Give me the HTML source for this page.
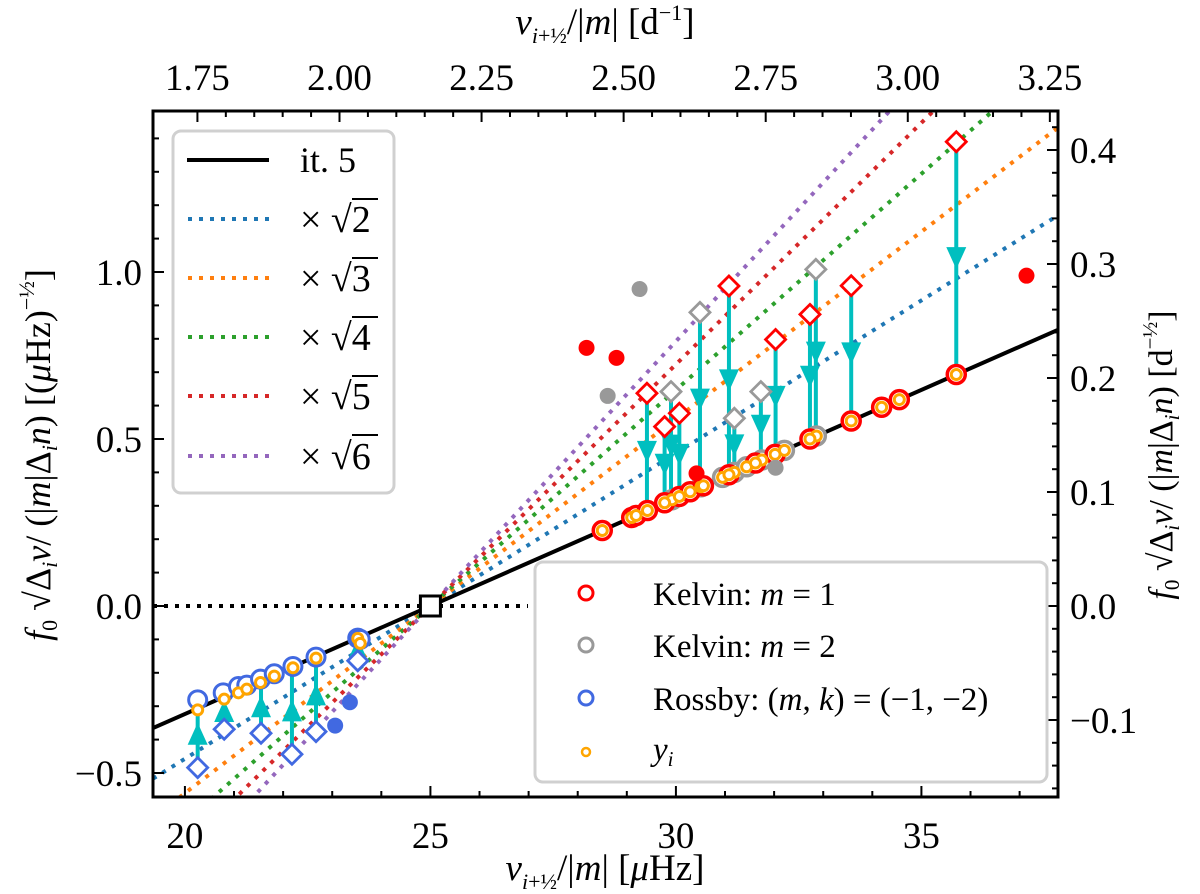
<!DOCTYPE html>
<html><head><meta charset="utf-8"><style>
html,body{margin:0;padding:0;background:#fff;}
svg{display:block;font-family:"Liberation Serif","DejaVu Serif",serif;}
</style></head><body>
<svg id="chart" width="1200" height="894" viewBox="0 0 1200 894" xmlns="http://www.w3.org/2000/svg">
<defs><clipPath id="plotclip"><rect x="153" y="111" width="905" height="686"/></clipPath></defs>
<g id="marks" clip-path="url(#plotclip)"></g>
<g id="axes"></g>
<g id="legends"></g>
</svg>
<script>
// ---- data ----
const lineSlope = 0.0647;
const lineZeroX = 25;
const multipliers = [2, 3, 4, 5, 6];
const multColors = ["#1f77b4", "#ff7f0e", "#2ca02c", "#d62728", "#9467bd"];
const kelvin1X = [28.50, 29.10, 29.19, 29.42, 29.77, 30.07, 30.29, 30.56, 31.08, 31.62, 32.02, 32.73, 33.57, 34.19, 34.55, 35.71];
const kelvin1Y = [0.226, 0.265, 0.271, 0.286, 0.309, 0.328, 0.342, 0.360, 0.393, 0.428, 0.454, 0.500, 0.554, 0.595, 0.618, 0.693];
const kelvin2X = [29.92, 30.51, 30.95, 31.19, 31.44, 31.75, 32.21, 32.86];
const kelvin2Y = [0.318, 0.357, 0.385, 0.400, 0.417, 0.437, 0.466, 0.509];
const rossbyX = [20.26, 20.78, 21.09, 21.26, 21.54, 21.82, 22.20, 22.67, 23.52, 23.57];
const rossbyY = [-0.281, -0.260, -0.241, -0.237, -0.219, -0.203, -0.181, -0.153, -0.096, -0.100];
const rossbyYiX = [20.26, 20.80, 21.09, 21.26, 21.54, 21.82, 22.20, 22.67, 23.52, 23.57];
const rossbyYiY = [-0.311, -0.279, -0.260, -0.249, -0.229, -0.210, -0.185, -0.156, -0.097, -0.112];
const redDiamondX = [29.41, 29.77, 30.07, 31.08, 32.03, 32.73, 33.57, 35.71];
const redDiamondY = [0.637, 0.537, 0.577, 0.958, 0.798, 0.873, 0.959, 1.39];
const redTargetY = [0.286, 0.309, 0.328, 0.393, 0.454, 0.500, 0.554, 0.693];
const grayDiamondX = [29.90, 30.49, 31.19, 31.73, 32.85];
const grayDiamondY = [0.642, 0.879, 0.562, 0.642, 1.008];
const grayTargetY = [0.318, 0.357, 0.400, 0.437, 0.509];
const blueDiamondX = [20.26, 20.80, 21.55, 22.18, 22.67, 23.52];
const blueDiamondY = [-0.484, -0.369, -0.381, -0.444, -0.376, -0.164];
const blueTargetY = [-0.281, -0.260, -0.219, -0.181, -0.153, -0.096];
const redDotX = [28.18, 28.79, 37.14, 30.42];
const redDotY = [0.773, 0.743, 0.989, 0.397];
const grayDotX = [29.26, 28.61, 32.03];
const grayDotY = [0.949, 0.629, 0.414];
const blueDotX = [23.36, 23.06];
const blueDotY = [-0.288, -0.358];
const bottomTicks = [20, 25, 30, 35];
const topTicks = [1.75, 2.00, 2.25, 2.50, 2.75, 3.00, 3.25];
const topTickLabels = ["1.75", "2.00", "2.25", "2.50", "2.75", "3.00", "3.25"];
const leftTicks = [-0.5, 0.0, 0.5, 1.0];
const leftTickLabels = ["\u22120.5", "0.0", "0.5", "1.0"];
const rightTicks = [-0.1, 0.0, 0.1, 0.2, 0.3, 0.4];
const rightTickLabels = ["\u22120.1", "0.0", "0.1", "0.2", "0.3", "0.4"];

// ---- scales ----
const PL = 153, PR = 1058, PT = 111, PB = 797;
const XMIN = 19.35, PXPER = 49.1;
function sx(x) { return PL + (x - XMIN) * PXPER; }
function sy(y) { return 606 - y * 334; }
function sxTop(d) { return sx(d * 11.5741); }
function syRight(v) { return 606 - v * 1140; }
const XMAX = XMIN + (PR - PL) / PXPER;

const NS = "http://www.w3.org/2000/svg";
function mk(tag, attrs, parent) {
  const e = document.createElementNS(NS, tag);
  for (const k in attrs) e.setAttribute(k, attrs[k]);
  parent.appendChild(e);
  return e;
}
const marks = document.getElementById("marks");
const axes = document.getElementById("axes");

let zl = mk("line", {x1: PL, y1: sy(0), x2: 528, y2: sy(0), stroke: "#000", "stroke-width": 4, "stroke-dasharray": "4 7"}, marks);



multipliers.forEach((m, i) => {
  const s = Math.sqrt(m) * lineSlope;
  const l = mk("line", {x1: sx(XMIN), y1: sy(s * (XMIN - lineZeroX)), x2: sx(XMAX), y2: sy(s * (XMAX - lineZeroX)), stroke: multColors[i], "stroke-width": 4, "stroke-dasharray": "4 7"}, marks);
  
  
});
let ml = mk("line", {x1: sx(XMIN), y1: sy(lineSlope * (XMIN - lineZeroX)), x2: sx(XMAX), y2: sy(lineSlope * (XMAX - lineZeroX)), stroke: "#000", "stroke-width": 4}, marks);



function arrows(xs, ys, ts, name) {
  xs.forEach((x, i) => {
    const px = sx(x), y1 = sy(ys[i]), y2 = sy(ts[i]), my = (y1 + y2) / 2;
    const g = mk("g", {}, marks);
    
    
    mk("line", {x1: px, y1: y1, x2: px, y2: y2, stroke: "#00bfbf", "stroke-width": 4}, g);
    const dir = y2 > y1 ? 1 : -1;
    mk("polygon", {points: `${px-10},${my-11*dir} ${px+10},${my-11*dir} ${px},${my+11*dir}`, fill: "#00bfbf"}, g);
  });
}
arrows(redDiamondX, redDiamondY, redTargetY, 'kelvin1');
arrows(grayDiamondX, grayDiamondY, grayTargetY, 'kelvin2');
arrows(blueDiamondX, blueDiamondY, blueTargetY, 'rossby');

function diamonds(xs, ys, col, name) {
  xs.forEach((x, i) => {
    const px = sx(x), py = sy(ys[i]);
    const d = mk("polygon", {points: `${px},${py-10} ${px+10},${py} ${px},${py+10} ${px-10},${py}`, fill: "#fff", stroke: col, "stroke-width": 2.8}, marks);
    
    
  });
}
diamonds(redDiamondX, redDiamondY, "#ff0000", 'kelvin1');
diamonds(grayDiamondX, grayDiamondY, "#999999", 'kelvin2');
diamonds(blueDiamondX, blueDiamondY, "#4169e1", 'rossby');

function circles(xs, ys, col, r, sw, name) {
  xs.forEach((x, i) => {
    const c = mk("circle", {cx: sx(x), cy: sy(ys[i]), r: r, fill: "#fff", stroke: col, "stroke-width": sw}, marks);
    
    
  });
}
circles(rossbyX, rossbyY, "#4169e1", 9, 3, 'rossby-point');
circles(kelvin2X, kelvin2Y, "#999999", 9, 3.5, 'kelvin2-point');
circles(kelvin1X, kelvin1Y, "#ff0000", 9, 3.5, 'kelvin1-point');
circles(kelvin2X, kelvin2Y, "#ffa500", 5, 3, 'yi-point');
circles(kelvin1X, kelvin1Y, "#ffa500", 5, 3, 'yi-point');
circles(rossbyYiX, rossbyYiY, "#ffa500", 5, 3, 'yi-point');

function dots(xs, ys, col, name) {
  xs.forEach((x, i) => {
    const c = mk("circle", {cx: sx(x), cy: sy(ys[i]), r: 8, fill: col}, marks);
    
    
  });
}
dots(redDotX, redDotY, "#ff0000", 'kelvin1-filled-dot');
dots(grayDotX, grayDotY, "#999999", 'kelvin2-filled-dot');
dots(blueDotX, blueDotY, "#4169e1", 'rossby-filled-dot');

let sq = mk("rect", {x: sx(25) - 10, y: sy(0) - 10, width: 20, height: 20, fill: "#fff", stroke: "#000", "stroke-width": 3}, axes);



let fr = mk("rect", {x: PL, y: PT, width: PR - PL, height: PB - PT, fill: "none", stroke: "#000", "stroke-width": 3}, axes);



function tick(x1, y1, x2, y2) { mk("line", {x1, y1, x2, y2, stroke: "#000", "stroke-width": 2}, axes); }
for (let v = 20; v <= 37; v++) { const len = (v % 5 === 0) ? 11 : 6; tick(sx(v), PB, sx(v), PB - len); }
for (let k = 35; k <= 65; k++) { const d = k * 0.05; if (sxTop(d) < PL || sxTop(d) > PR) continue; const len = (k % 5 === 0) ? 11 : 6; tick(sxTop(d), PT, sxTop(d), PT + len); }
for (let k = -5; k <= 14; k++) { const len = (k % 5 === 0) ? 11 : 6; tick(PL, sy(k / 10), PL + len, sy(k / 10)); }
for (let k = -8; k <= 21; k++) { const v = k * 0.02; const py = syRight(v); if (py < PT || py > PB) continue; const len = (k % 5 === 0) ? 11 : 6; tick(PR, py, PR - len, py); }

function txt(s, attrs, name) {
  const t = mk("text", Object.assign({"font-size": 37, fill: "#000"}, attrs), axes);
  t.textContent = s;
  
  
  return t;
}
bottomTicks.forEach(v => txt(String(v), {x: sx(v), y: 848, "text-anchor": "middle"}, 'x-tick-label'));
topTicks.forEach((v, i) => txt(topTickLabels[i], {x: sxTop(v), y: 90, "text-anchor": "middle"}, 'top-x-tick-label'));
leftTicks.forEach((v, i) => txt(leftTickLabels[i], {x: 142, y: sy(v) + 13, "text-anchor": "end"}, 'y-tick-label'));
rightTicks.forEach((v, i) => txt(rightTickLabels[i], {x: 1070, y: syRight(v) + 13, "text-anchor": "start"}, 'right-y-tick-label'));
</script>

<svg style="position:absolute;left:0;top:0" width="1200" height="894" viewBox="0 0 1200 894" xmlns="http://www.w3.org/2000/svg" font-family="Liberation Serif, DejaVu Serif, serif">
<text x="605" y="880" font-size="37" text-anchor="middle"><tspan font-style="italic">ν</tspan><tspan font-size="22" font-style="italic" dy="9">i</tspan><tspan font-size="22">+½</tspan><tspan dy="-9">/|</tspan><tspan font-style="italic">m</tspan><tspan>| [</tspan><tspan font-style="italic">μ</tspan><tspan>Hz]</tspan></text>
<text x="605" y="34" font-size="37" text-anchor="middle"><tspan font-style="italic">ν</tspan><tspan font-size="22" font-style="italic" dy="9">i</tspan><tspan font-size="22">+½</tspan><tspan dy="-9">/|</tspan><tspan font-style="italic">m</tspan><tspan>| [d</tspan><tspan font-size="22" dy="-14">−1</tspan><tspan dy="14">]</tspan></text>
<g transform="translate(50,455) rotate(-90)">
<text font-size="36" text-anchor="middle"><tspan font-style="italic">f</tspan><tspan font-size="22" dy="7">0</tspan><tspan dy="-7"> √</tspan><tspan>Δ</tspan><tspan font-size="22" font-style="italic" dy="7">i</tspan><tspan font-style="italic" dy="-7">ν</tspan><tspan>/ (|</tspan><tspan font-style="italic">m</tspan><tspan>|Δ</tspan><tspan font-size="22" font-style="italic" dy="7">i</tspan><tspan font-style="italic" dy="-7">n</tspan><tspan>) [(</tspan><tspan font-style="italic">μ</tspan><tspan>Hz)</tspan><tspan font-size="22" dy="-16">−½</tspan><tspan dy="16">]</tspan></text>
</g>
<g transform="translate(1172,455) rotate(-90)">
<text font-size="34" text-anchor="middle"><tspan font-style="italic">f</tspan><tspan font-size="21" dy="7">0</tspan><tspan dy="-7"> √</tspan><tspan>Δ</tspan><tspan font-size="21" font-style="italic" dy="7">i</tspan><tspan font-style="italic" dy="-7">ν</tspan><tspan>/ (|</tspan><tspan font-style="italic">m</tspan><tspan>|Δ</tspan><tspan font-size="21" font-style="italic" dy="7">i</tspan><tspan font-style="italic" dy="-7">n</tspan><tspan>) [d</tspan><tspan font-size="21" dy="-15">−½</tspan><tspan dy="15">]</tspan></text>
</g>

<g>
<rect x="173" y="131" width="221" height="362" rx="8" fill="#fff" fill-opacity="0.85" stroke="#d0d0d0" stroke-width="3"/>
<g><line x1="187" y1="160" x2="269" y2="160" stroke="#000" stroke-width="4"/><text x="300" y="172" font-size="36">it. 5</text></g>
<g><line x1="188" y1="219" x2="269" y2="219" stroke="#1f77b4" stroke-width="4" stroke-dasharray="4 7"/><text x="300" y="232" font-size="38">× √2</text><line x1="352" y1="199" x2="378" y2="199" stroke="#000" stroke-width="2"/></g>
<g><line x1="188" y1="278" x2="269" y2="278" stroke="#ff7f0e" stroke-width="4" stroke-dasharray="4 7"/><text x="300" y="291" font-size="38">× √3</text><line x1="352" y1="258" x2="378" y2="258" stroke="#000" stroke-width="2"/></g>
<g><line x1="188" y1="337" x2="269" y2="337" stroke="#2ca02c" stroke-width="4" stroke-dasharray="4 7"/><text x="300" y="350" font-size="38">× √4</text><line x1="352" y1="317" x2="378" y2="317" stroke="#000" stroke-width="2"/></g>
<g><line x1="188" y1="396" x2="269" y2="396" stroke="#d62728" stroke-width="4" stroke-dasharray="4 7"/><text x="300" y="409" font-size="38">× √5</text><line x1="352" y1="376" x2="378" y2="376" stroke="#000" stroke-width="2"/></g>
<g><line x1="188" y1="456" x2="269" y2="456" stroke="#9467bd" stroke-width="4" stroke-dasharray="4 7"/><text x="300" y="469" font-size="38">× √6</text><line x1="352" y1="435" x2="378" y2="435" stroke="#000" stroke-width="2"/></g>
</g>

<g>
<rect x="535" y="562" width="512" height="220" rx="8" fill="#fff" fill-opacity="0.85" stroke="#d0d0d0" stroke-width="3"/>
<g><circle cx="586" cy="593" r="7" fill="#fff" stroke="#ff0000" stroke-width="3"/><text x="653" y="605" font-size="33">Kelvin: <tspan font-style="italic">m</tspan> = 1</text></g>
<g><circle cx="586" cy="645" r="7" fill="#fff" stroke="#999" stroke-width="3"/><text x="653" y="657" font-size="33">Kelvin: <tspan font-style="italic">m</tspan> = 2</text></g>
<g><circle cx="586" cy="698" r="7" fill="#fff" stroke="#4169e1" stroke-width="3"/><text x="653" y="710" font-size="33">Rossby: (<tspan font-style="italic">m</tspan>, <tspan font-style="italic">k</tspan>) = (−1, −2)</text></g>
<g><circle cx="586" cy="752" r="4" fill="#fff" stroke="#ffa500" stroke-width="2.5"/><text x="653" y="760" font-size="33" font-style="italic">y<tspan font-size="21" dy="6">i</tspan></text></g>
</g>
</svg>
</body></html>
